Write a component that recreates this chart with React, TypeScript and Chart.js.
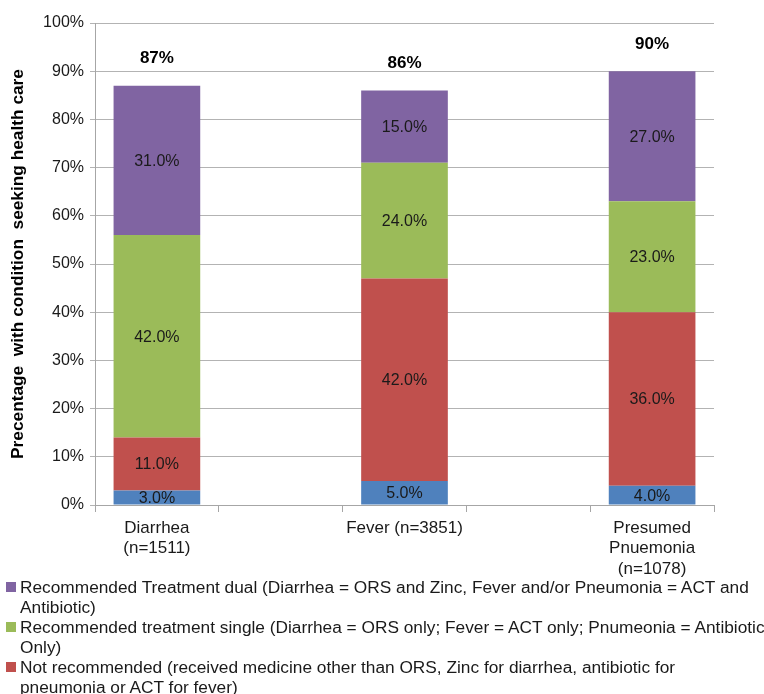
import React, { useEffect, useRef } from "react";
import { Chart, registerables } from "chart.js";
Chart.register(...registerables);

const categories: (string | string[])[] = [
  ["Diarrhea", "(n=1511)"],
  "",
  "Fever (n=3851)",
  "",
  ["Presumed", "Pnuemonia", "(n=1078)"],
];
const otherTreatment = [3, null, 5, null, 4];
const notRecommended = [11, null, 42, null, 36];
const recommendedSingle = [42, null, 24, null, 23];
const recommendedDual = [31, null, 15, null, 27];
const totals = [87, null, 86, null, 90];
const yTickValues = [0, 10, 20, 30, 40, 50, 60, 70, 80, 90, 100];

const legendItems = [
  {
    color: "#8064A2",
    lines: [
      "Recommended Treatment dual (Diarrhea = ORS and Zinc, Fever and/or Pneumonia = ACT and",
      "Antibiotic)",
    ],
  },
  {
    color: "#9BBB59",
    lines: [
      "Recommended treatment single (Diarrhea = ORS only; Fever = ACT only; Pnumeonia = Antibiotic",
      "Only)",
    ],
  },
  {
    color: "#C0504D",
    lines: [
      "Not recommended (received medicine other than ORS, Zinc for diarrhea, antibiotic for",
      "pneumonia or ACT for fever)",
    ],
  },
];

const FONT = "'Liberation Sans', Arial, Helvetica, sans-serif";

const labelPlugin = {
  id: "segLabels",
  afterDatasetsDraw(chart: any) {
    const ctx = chart.ctx;
    ctx.save();
    ctx.textAlign = "center";
    ctx.textBaseline = "middle";
    ctx.fillStyle = "#1a1a1a";
    ctx.font = `16px ${FONT}`;
    chart.data.datasets.forEach((ds: any, i: number) => {
      const meta = chart.getDatasetMeta(i);
      meta.data.forEach((bar: any, j: number) => {
        const v = ds.data[j];
        if (v == null) return;
        const p = bar.getProps(["x", "y", "base"], true);
        ctx.fillText(v.toFixed(1) + "%", p.x, (p.y + p.base) / 2 + 1);
      });
    });
    const last = chart.getDatasetMeta(chart.data.datasets.length - 1);
    ctx.font = `bold 17px ${FONT}`;
    ctx.fillStyle = "#000";
    totals.forEach((t, j) => {
      if (t == null) return;
      const bar: any = last.data[j];
      const p = bar.getProps(["x", "y"], true);
      ctx.fillText(t + "%", p.x, p.y - 27);
    });
    ctx.restore();
  },
};

export default function App() {
  const ref = useRef<HTMLCanvasElement>(null);
  useEffect(() => {
    if (!ref.current) return;
    Chart.defaults.font.family = FONT;
    const chart = new Chart(ref.current, {
      type: "bar",
      data: {
        labels: categories as any,
        datasets: [
          { label: "Other", data: otherTreatment as any, backgroundColor: "#4F81BD" },
          { label: "Not recommended", data: notRecommended as any, backgroundColor: "#C0504D" },
          { label: "Recommended treatment single", data: recommendedSingle as any, backgroundColor: "#9BBB59" },
          { label: "Recommended Treatment dual", data: recommendedDual as any, backgroundColor: "#8064A2" },
        ],
      },
      options: {
        animation: false,
        responsive: false,
        maintainAspectRatio: false,
        layout: { padding: { left: 0, right: 50, top: 23, bottom: 0 } },
        plugins: { legend: { display: false }, tooltip: { enabled: false } },
        datasets: { bar: { barPercentage: 0.7, categoryPercentage: 1 } },
        scales: {
          x: {
            stacked: true,
            grid: { drawOnChartArea: false, drawTicks: true, tickLength: 7, color: "#a6a6a6" },
            border: { color: "#a6a6a6" },
            ticks: { font: { size: 17 }, color: "#1a1a1a", maxRotation: 0, autoSkip: false, padding: 6 },
            afterFit: (s: any) => {
              s.height = 75;
            },
          },
          y: {
            stacked: true,
            min: 0,
            max: 100,
            afterBuildTicks: (s: any) => {
              s.ticks = yTickValues.map((v) => ({ value: v }));
            },
            ticks: { font: { size: 16 }, color: "#1a1a1a", padding: 6, callback: (v: any) => v + "%" },
            grid: { color: "#b3b3b3", tickLength: 5 },
            border: { color: "#a6a6a6" },
            title: {
              display: true,
              text: "Precentage  with condition  seeking health care",
              font: { size: 17.3, weight: "bold" },
              color: "#000",
              padding: { top: 8, bottom: 0 },
            },
            afterFit: (s: any) => {
              s.width = 95;
            },
          },
        },
      },
      plugins: [labelPlugin],
    });
    return () => chart.destroy();
  }, []);

  return (
    <div
      style={{
        position: "fixed",
        left: 0,
        top: 0,
        width: 764,
        height: 694,
        background: "#fff",
        overflow: "hidden",
      }}
    >
      <canvas ref={ref} width={764} height={580} style={{ position: "absolute", left: 0, top: 0 }} />
      <div style={{ position: "absolute", left: 0, top: 577, width: 764 }}>
        {legendItems.map((it, i) => (
          <div key={i} style={{ display: "flex", alignItems: "flex-start" }}>
            <div
              style={{
                width: 10,
                height: 10,
                background: it.color,
                marginLeft: 6,
                marginRight: 4,
                marginTop: 5,
                flex: "none",
              }}
            />
            <div
              style={{
                fontFamily: FONT,
                fontSize: 17.3,
                lineHeight: "20px",
                color: "#1a1a1a",
                whiteSpace: "nowrap",
              }}
            >
              {it.lines.map((l, k) => (
                <div key={k}>{l}</div>
              ))}
            </div>
          </div>
        ))}
      </div>
    </div>
  );
}
